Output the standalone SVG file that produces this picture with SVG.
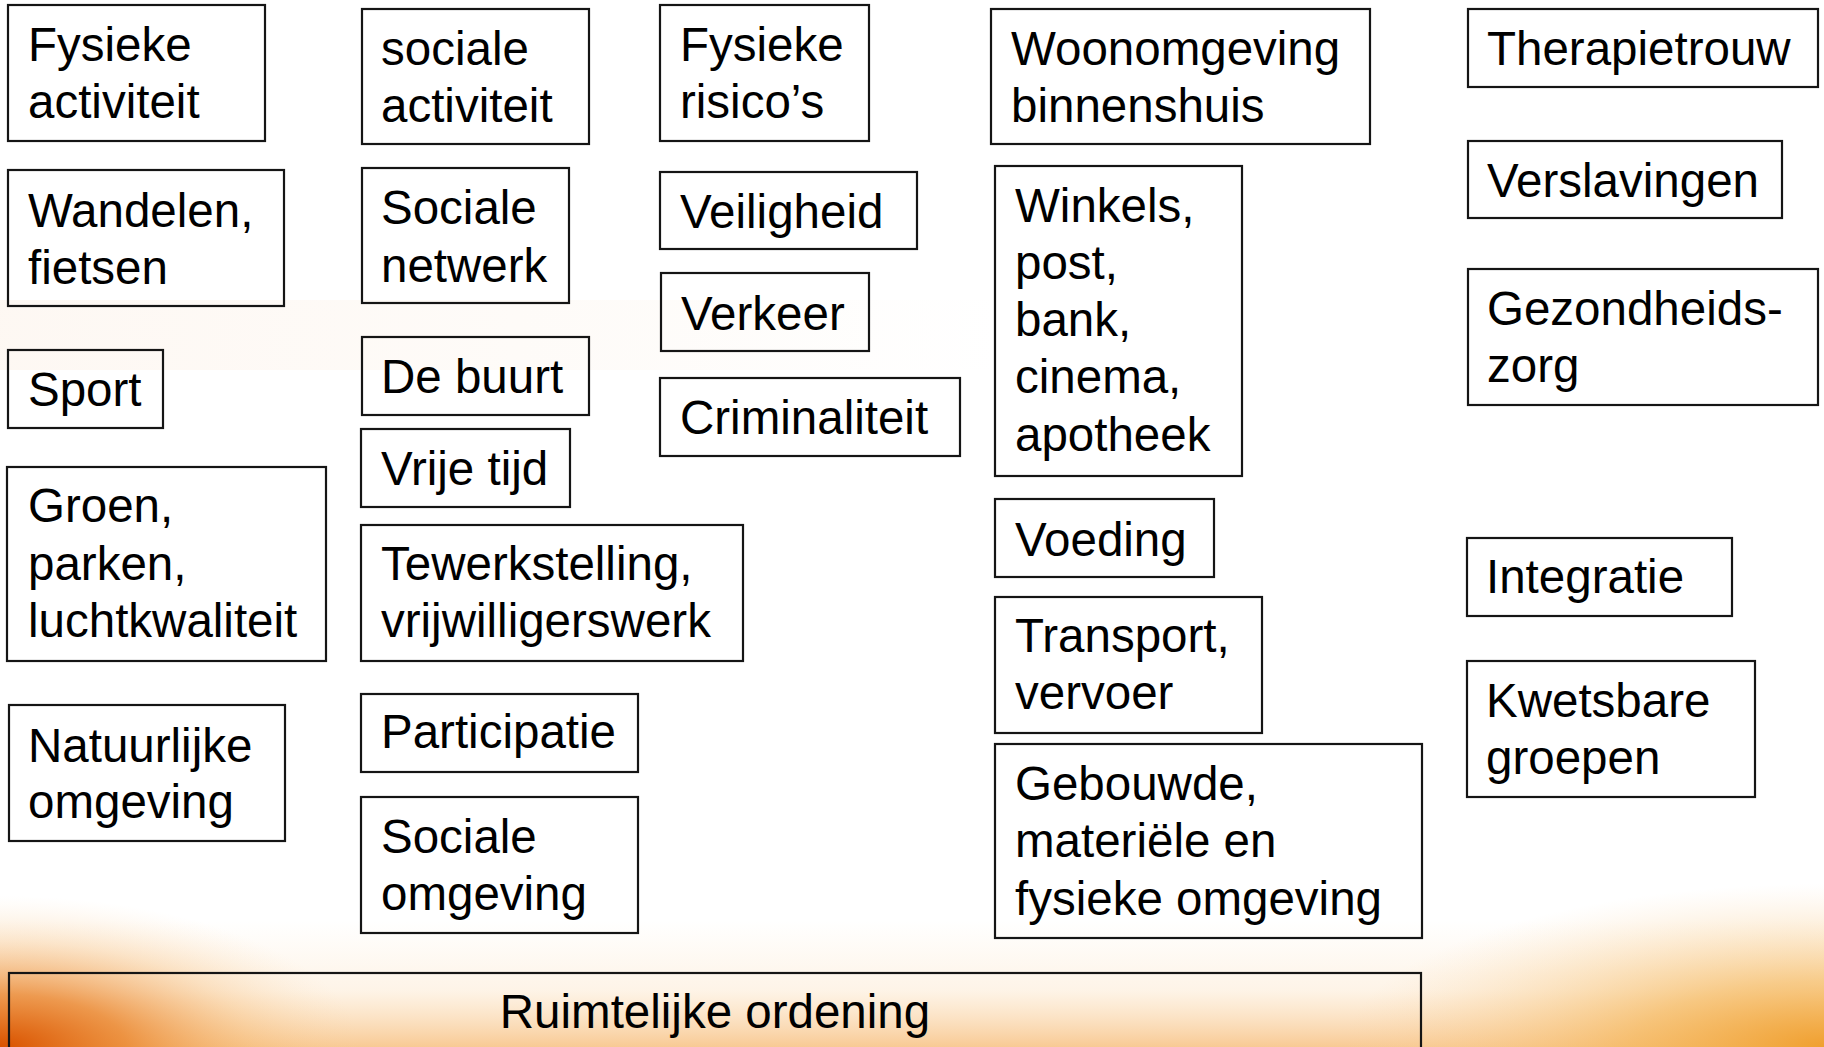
<svg xmlns="http://www.w3.org/2000/svg" width="1824" height="1047" viewBox="0 0 1824 1047">
<style>
  .box { fill: none; stroke: #151515; stroke-width: 2.2; }
  .t { font-family: "Liberation Sans", Arial, sans-serif; font-size: 47.5px; fill: #000; }
  .c { text-anchor: middle; }
</style>
<defs>
  <linearGradient id="bottomFade" x1="0" y1="0" x2="0" y2="1">
    <stop offset="0" stop-color="#fbd7a8" stop-opacity="0"/>
    <stop offset="0.55" stop-color="#fad2a0" stop-opacity="0.25"/>
    <stop offset="1" stop-color="#f6b870" stop-opacity="0.75"/>
  </linearGradient>
  <radialGradient id="cornerL" cx="0" cy="1047" r="360" gradientUnits="userSpaceOnUse" gradientTransform="translate(0,1047) scale(1,0.42) translate(0,-1047)">
    <stop offset="0" stop-color="#d95200" stop-opacity="1"/>
    <stop offset="0.35" stop-color="#e87d20" stop-opacity="0.75"/>
    <stop offset="0.7" stop-color="#f4b060" stop-opacity="0.3"/>
    <stop offset="1" stop-color="#fbd7a8" stop-opacity="0"/>
  </radialGradient>
  <radialGradient id="cornerR" cx="1824" cy="1047" r="480" gradientUnits="userSpaceOnUse" gradientTransform="translate(1824,1047) scale(1,0.34) translate(-1824,-1047)">
    <stop offset="0" stop-color="#f0a030" stop-opacity="1"/>
    <stop offset="0.4" stop-color="#f4b454" stop-opacity="0.65"/>
    <stop offset="1" stop-color="#fbd7a8" stop-opacity="0"/>
  </radialGradient>
  <linearGradient id="band" x1="0" y1="0" x2="1" y2="0">
    <stop offset="0" stop-color="#fcefe4" stop-opacity="0.45"/>
    <stop offset="0.6" stop-color="#fcf3ea" stop-opacity="0.3"/>
    <stop offset="1" stop-color="#fcf3ea" stop-opacity="0"/>
  </linearGradient>
</defs>

<g id="background">
  <rect x="0" y="0" width="1824" height="1047" fill="#ffffff"/>
  <rect x="0" y="300" width="1000" height="70" fill="url(#band)"/>
  <rect x="0" y="920" width="1824" height="127" fill="url(#bottomFade)"/>
  <rect x="0" y="880" width="600" height="167" fill="url(#cornerL)"/>
  <rect x="1250" y="860" width="574" height="187" fill="url(#cornerR)"/>
</g>

<g id="connectors"></g>

<g id="fysieke-activiteit">
  <rect class="box" x="8" y="5" width="257" height="136"/>
  <text class="t" x="28" y="61">Fysieke</text>
  <text class="t" x="28" y="118">activiteit</text>
</g>
<g id="wandelen-fietsen">
  <rect class="box" x="8" y="170" width="276" height="136"/>
  <text class="t" x="28" y="227">Wandelen,</text>
  <text class="t" x="28" y="284">fietsen</text>
</g>
<g id="sport">
  <rect class="box" x="8" y="350" width="155" height="78"/>
  <text class="t" x="28" y="406">Sport</text>
</g>
<g id="groen">
  <rect class="box" x="7" y="467" width="319" height="194"/>
  <text class="t" x="28" y="522">Groen,</text>
  <text class="t" x="28" y="580">parken,</text>
  <text class="t" x="28" y="637">luchtkwaliteit</text>
</g>
<g id="natuurlijke-omgeving">
  <rect class="box" x="9" y="705" width="276" height="136"/>
  <text class="t" x="28" y="762">Natuurlijke</text>
  <text class="t" x="28" y="818">omgeving</text>
</g>

<g id="sociale-activiteit">
  <rect class="box" x="362" y="9" width="227" height="135"/>
  <text class="t" x="381" y="65">sociale</text>
  <text class="t" x="381" y="122">activiteit</text>
</g>
<g id="sociale-netwerk">
  <rect class="box" x="362" y="168" width="207" height="135"/>
  <text class="t" x="381" y="224">Sociale</text>
  <text class="t" x="381" y="282">netwerk</text>
</g>
<g id="de-buurt">
  <rect class="box" x="362" y="337" width="227" height="78"/>
  <text class="t" x="381" y="393">De buurt</text>
</g>
<g id="vrije-tijd">
  <rect class="box" x="361" y="429" width="209" height="78"/>
  <text class="t" x="381" y="485">Vrije tijd</text>
</g>
<g id="tewerkstelling">
  <rect class="box" x="361" y="525" width="382" height="136"/>
  <text class="t" x="381" y="580">Tewerkstelling,</text>
  <text class="t" x="381" y="637">vrijwilligerswerk</text>
</g>
<g id="participatie">
  <rect class="box" x="361" y="694" width="277" height="78"/>
  <text class="t" x="381" y="748">Participatie</text>
</g>
<g id="sociale-omgeving">
  <rect class="box" x="361" y="797" width="277" height="136"/>
  <text class="t" x="381" y="853">Sociale</text>
  <text class="t" x="381" y="910">omgeving</text>
</g>

<g id="fysieke-risicos">
  <rect class="box" x="660" y="5" width="209" height="136"/>
  <text class="t" x="680" y="61">Fysieke</text>
  <text class="t" x="680" y="118">risico’s</text>
</g>
<g id="veiligheid">
  <rect class="box" x="660" y="172" width="257" height="77"/>
  <text class="t" x="680" y="228">Veiligheid</text>
</g>
<g id="verkeer">
  <rect class="box" x="661" y="273" width="208" height="78"/>
  <text class="t" x="681" y="330">Verkeer</text>
</g>
<g id="criminaliteit">
  <rect class="box" x="660" y="378" width="300" height="78"/>
  <text class="t" x="680" y="434">Criminaliteit</text>
</g>

<g id="woonomgeving">
  <rect class="box" x="991" y="9" width="379" height="135"/>
  <text class="t" x="1011" y="65">Woonomgeving</text>
  <text class="t" x="1011" y="122">binnenshuis</text>
</g>
<g id="winkels">
  <rect class="box" x="995" y="166" width="247" height="310"/>
  <text class="t" x="1015" y="222">Winkels,</text>
  <text class="t" x="1015" y="279">post,</text>
  <text class="t" x="1015" y="336">bank,</text>
  <text class="t" x="1015" y="393">cinema,</text>
  <text class="t" x="1015" y="451">apotheek</text>
</g>
<g id="voeding">
  <rect class="box" x="995" y="499" width="219" height="78"/>
  <text class="t" x="1015" y="556">Voeding</text>
</g>
<g id="transport">
  <rect class="box" x="995" y="597" width="267" height="136"/>
  <text class="t" x="1015" y="652">Transport,</text>
  <text class="t" x="1015" y="709">vervoer</text>
</g>
<g id="gebouwde-omgeving">
  <rect class="box" x="995" y="744" width="427" height="194"/>
  <text class="t" x="1015" y="800">Gebouwde,</text>
  <text class="t" x="1015" y="857">materiële en</text>
  <text class="t" x="1015" y="915">fysieke omgeving</text>
</g>

<g id="therapietrouw">
  <rect class="box" x="1468" y="9" width="350" height="78"/>
  <text class="t" x="1487" y="65">Therapietrouw</text>
</g>
<g id="verslavingen">
  <rect class="box" x="1468" y="141" width="314" height="77"/>
  <text class="t" x="1487" y="197">Verslavingen</text>
</g>
<g id="gezondheidszorg">
  <rect class="box" x="1468" y="269" width="350" height="136"/>
  <text class="t" x="1487" y="325">Gezondheids-</text>
  <text class="t" x="1487" y="382">zorg</text>
</g>
<g id="integratie">
  <rect class="box" x="1467" y="538" width="265" height="78"/>
  <text class="t" x="1486" y="593">Integratie</text>
</g>
<g id="kwetsbare-groepen">
  <rect class="box" x="1467" y="661" width="288" height="136"/>
  <text class="t" x="1486" y="717">Kwetsbare</text>
  <text class="t" x="1486" y="774">groepen</text>
</g>

<g id="ruimtelijke-ordening">
  <rect class="box" x="9" y="973" width="1412" height="100"/>
  <text class="t c" x="715" y="1028">Ruimtelijke ordening</text>
</g>
</svg>
